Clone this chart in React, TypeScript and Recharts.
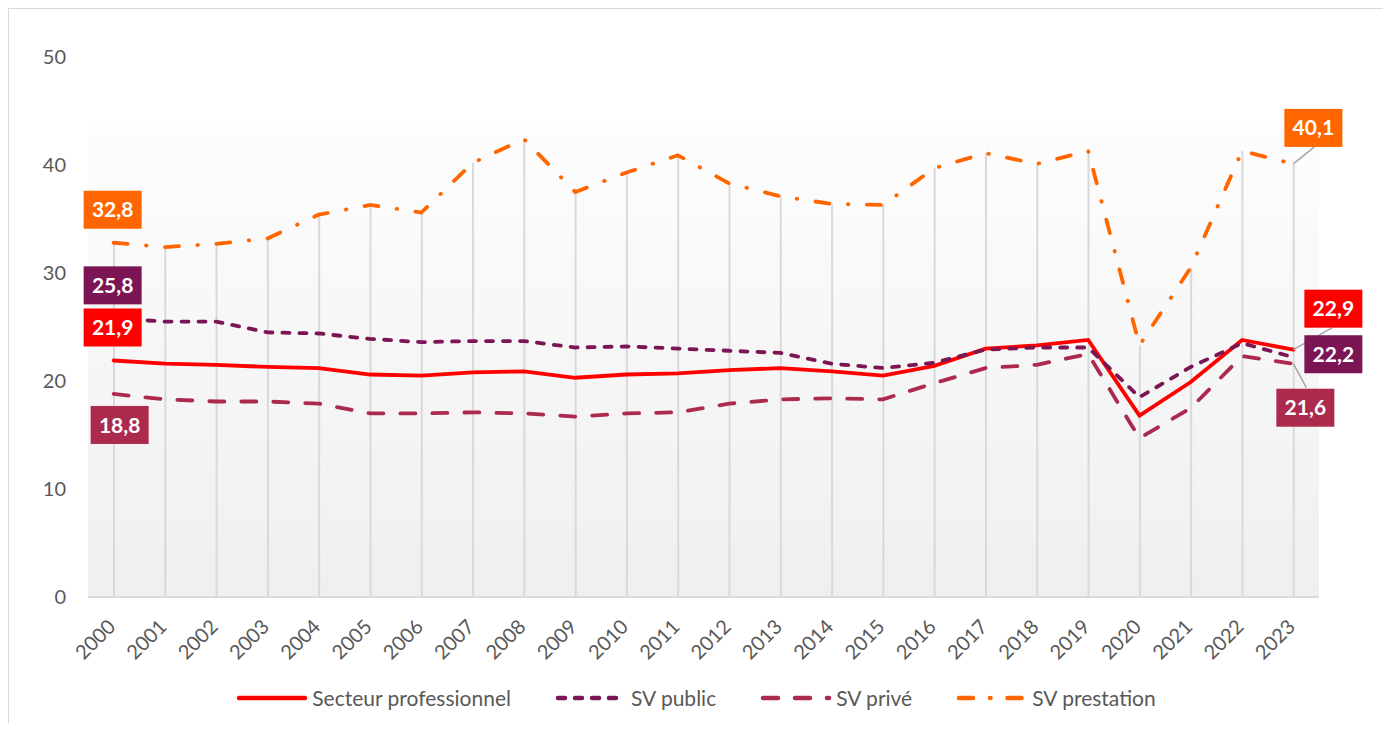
import React from 'react';
import { ComposedChart, Line, Bar, XAxis, YAxis, CartesianGrid, LabelList } from 'recharts';

const years = ['2000', '2001', '2002', '2003', '2004', '2005', '2006', '2007', '2008', '2009', '2010', '2011',
  '2012', '2013', '2014', '2015', '2016', '2017', '2018', '2019', '2020', '2021', '2022', '2023'];

const secteurPro = [21.9, 21.6, 21.5, 21.3, 21.2, 20.6, 20.5, 20.8, 20.9, 20.3, 20.6, 20.7,
  21.0, 21.2, 20.9, 20.5, 21.4, 23.0, 23.3, 23.8, 16.8, 19.9, 23.8, 22.9];
const svPublic = [25.8, 25.5, 25.5, 24.5, 24.4, 23.9, 23.6, 23.7, 23.7, 23.1, 23.2, 23.0,
  22.8, 22.6, 21.6, 21.2, 21.7, 22.9, 23.1, 23.1, 18.5, 21.3, 23.5, 22.2];
const svPrive = [18.8, 18.3, 18.1, 18.1, 17.9, 17.0, 17.0, 17.1, 17.0, 16.7, 17.0, 17.1,
  17.9, 18.3, 18.4, 18.3, 19.8, 21.2, 21.5, 22.5, 14.7, 17.5, 22.3, 21.6];
const svPrestation = [32.8, 32.4, 32.7, 33.2, 35.4, 36.3, 35.6, 40.2, 42.4, 37.5, 39.3, 40.9,
  38.3, 37.1, 36.4, 36.3, 39.7, 41.1, 40.1, 41.3, 23.3, 30.5, 41.3, 40.1];

const yTicks = [0, 10, 20, 30, 40, 50];

const data = years.map((year, i) => ({
  year,
  pro: secteurPro[i],
  public: svPublic[i],
  prive: svPrive[i],
  prestation: svPrestation[i],
}));

// label box offsets relative to the point (first / last year)
const series = [
  {
    key: 'pro', name: 'Secteur professionnel', color: '#ff0000', dash: undefined, legendDash: undefined,
    first: { dx: -30, dy: -52 }, last: { dx: 11, dy: -60, leader: [39, -22] },
  },
  {
    key: 'public', name: 'SV public', color: '#7b1553', dash: '7 10', legendDash: '7 10',
    first: { dx: -30, dy: -52 }, last: { dx: 11, dy: -22 },
  },
  {
    key: 'prive', name: 'SV privé', color: '#ad2a4f', dash: '15 17', legendDash: '15 17',
    first: { dx: -23, dy: 12 }, last: { dx: -17, dy: 25, leader: [13, 24] },
  },
  {
    key: 'prestation', name: 'SV prestation', color: '#ff6600', dash: '14 18.5 0.5 18.5', legendDash: '14 17 0.5 17',
    first: { dx: -30, dy: -52 }, last: { dx: -9, dy: -55, leader: [21, -17] },
  },
];

const fmt = (v: number) => v.toFixed(1).replace('.', ',');

const makeEndLabel = (s: any) => (props: any) => {
  const { x, y, value, index } = props;
  const pos = index === 0 ? s.first : index === years.length - 1 ? s.last : null;
  if (!pos) return null;
  const bx = x + pos.dx;
  const by = y + pos.dy;
  return (
    <g>
      {pos.leader && (
        <line x1={x} y1={y} x2={x + pos.leader[0]} y2={y + pos.leader[1]} stroke="#a6a6a6" strokeWidth={1.5} />
      )}
      <rect x={bx} y={by} width={58} height={38} fill={s.color} />
      <text x={bx + 29} y={by + 19} dy="0.36em" textAnchor="middle" fill="#ffffff" fontWeight="bold" fontSize={21}>
        {fmt(value)}
      </text>
    </g>
  );
};

const DropLine = (props: any) => {
  const { x, y, width, height } = props;
  const cx = x + width / 2;
  return <line x1={cx} x2={cx} y1={y} y2={y + height} stroke="#d9d9d9" strokeWidth={2} />;
};

const YearTick = (props: any) => {
  const { x, y, payload } = props;
  return (
    <g transform={`translate(${x + 3},${y + 23})`}>
      <text textAnchor="end" transform="rotate(-45)" fill="#595959" fontSize={20}>
        {payload.value}
      </text>
    </g>
  );
};

const App = () => {
  return (
    <div
      style={{
        position: 'relative',
        width: 1376,
        height: 715,
        boxSizing: 'border-box',
        borderTop: '1px solid #d9d9d9',
        borderLeft: '1px solid #d9d9d9',
        borderRight: '1px solid #d9d9d9',
        background: '#ffffff',
        fontFamily: "Lato, 'Open Sans', sans-serif",
      }}
    >
      <ComposedChart width={1374} height={714} data={data} margin={{ top: 48, right: 64, bottom: 46, left: 19 }}>
        <defs>
          <linearGradient id="plotBg" x1="0" y1="0" x2="0" y2="1">
            <stop offset="0%" stopColor="#ffffff" />
            <stop offset="12.9%" stopColor="#ffffff" />
            <stop offset="13%" stopColor="#fdfdfd" />
            <stop offset="100%" stopColor="#efefef" />
          </linearGradient>
        </defs>
        <CartesianGrid horizontal={false} vertical={false} fill="url(#plotBg)" />
        <XAxis
          dataKey="year"
          interval={0}
          height={80}
          tickLine={false}
          axisLine={{ stroke: '#d9d9d9', strokeWidth: 2 }}
          tick={<YearTick />}
        />
        <YAxis
          width={60}
          domain={[0, 50]}
          ticks={yTicks}
          axisLine={false}
          tickLine={false}
          tickMargin={16}
          tick={{ fill: '#595959', fontSize: 20 }}
        />
        <Bar dataKey="prestation" barSize={2} shape={<DropLine />} isAnimationActive={false} />
        {series.map((s) => (
          <Line
            key={s.key}
            type="linear"
            dataKey={s.key}
            name={s.name}
            stroke={s.color}
            strokeWidth={3.8}
            strokeDasharray={s.dash}
            strokeLinecap="round"
            dot={false}
            activeDot={false}
            isAnimationActive={false}
          >
            <LabelList dataKey={s.key} content={makeEndLabel(s)} />
          </Line>
        ))}
      </ComposedChart>
      <div
        style={{
          position: 'absolute',
          top: 676,
          left: 0,
          right: 0,
          display: 'flex',
          justifyContent: 'center',
          alignItems: 'center',
          gap: 44,
          fontSize: 21,
          color: '#595959',
        }}
      >
        {series.map((s) => (
          <div key={s.key} style={{ display: 'flex', alignItems: 'center' }}>
            <svg width={72} height={10} style={{ marginRight: 4 }}>
              <line
                x1={3}
                x2={69}
                y1={5}
                y2={5}
                stroke={s.color}
                strokeWidth={4.5}
                strokeLinecap="round"
                strokeDasharray={s.legendDash}
              />
            </svg>
            <span>{s.name}</span>
          </div>
        ))}
      </div>
    </div>
  );
};

export default App;
